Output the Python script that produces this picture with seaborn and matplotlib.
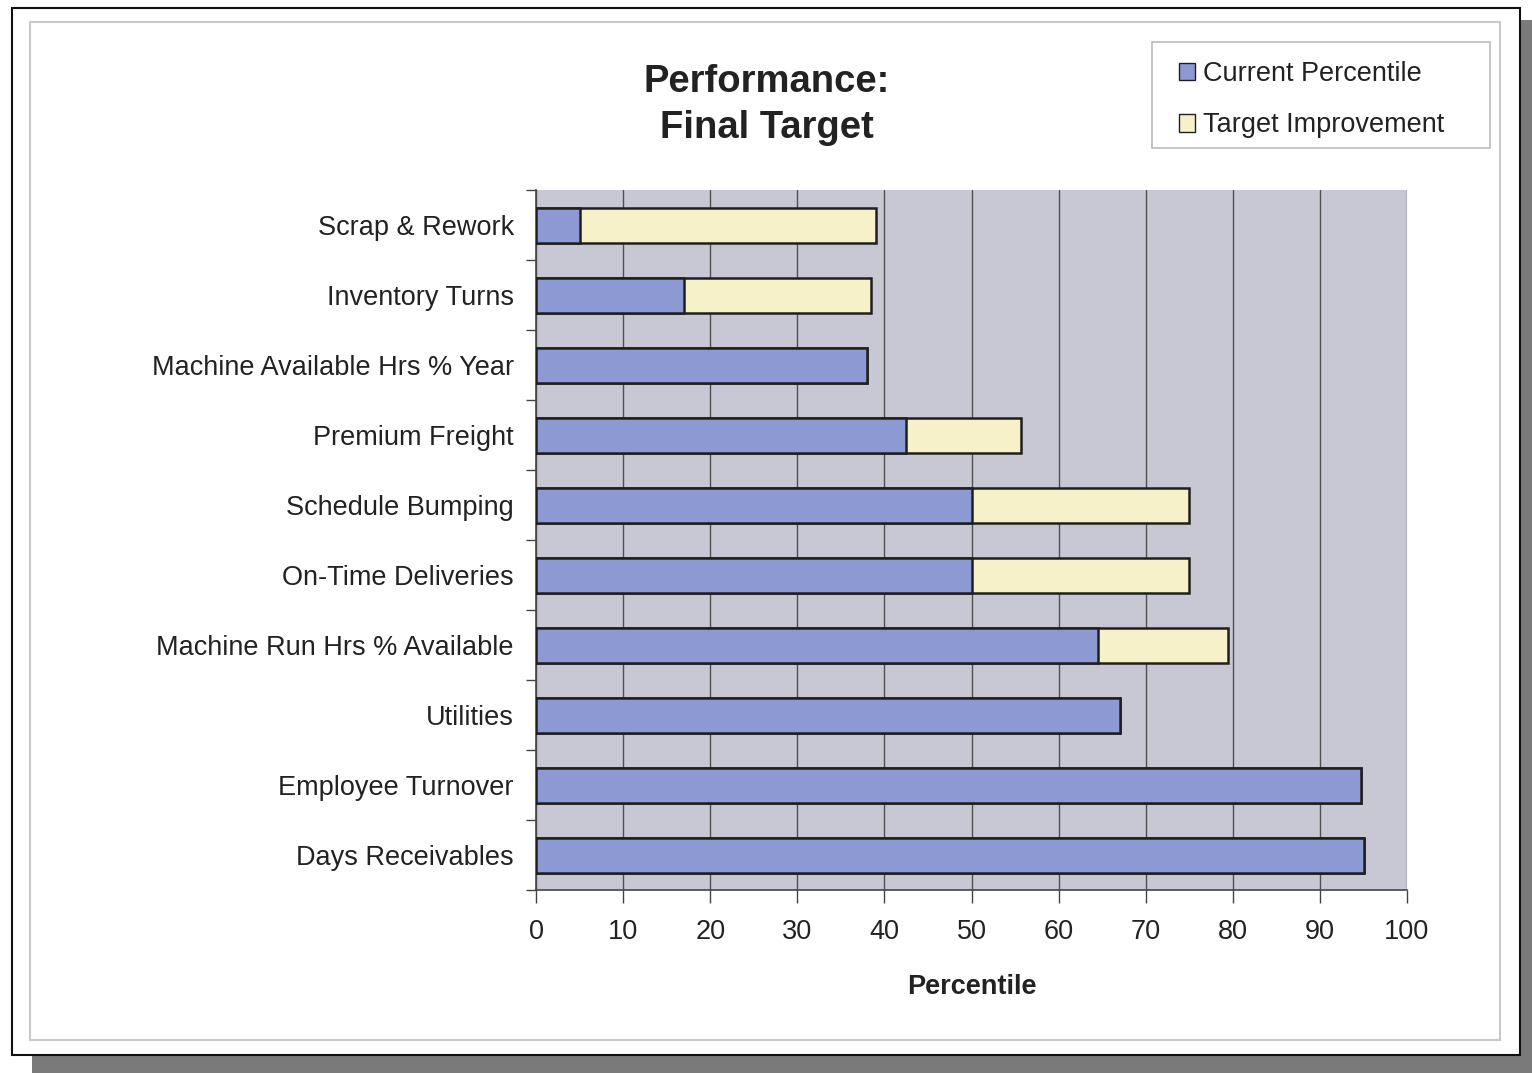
import matplotlib
matplotlib.use("Agg")
import matplotlib.pyplot as plt
from matplotlib.patches import Rectangle, Patch
import pandas as pd
import seaborn as sns

categories = [
    "Scrap & Rework",
    "Inventory Turns",
    "Machine Available Hrs % Year",
    "Premium Freight",
    "Schedule Bumping",
    "On-Time Deliveries",
    "Machine Run Hrs % Available",
    "Utilities",
    "Employee Turnover",
    "Days Receivables",
]
current_percentile = [5, 17, 38, 42.5, 50, 50, 64.5, 67, 94.7, 95.1]
target_improvement = [34, 21.5, 0, 13.2, 25, 25, 15, 0, 0, 0]
x_ticks = [0, 10, 20, 30, 40, 50, 60, 70, 80, 90, 100]

df = pd.DataFrame({
    "category": categories,
    "current": current_percentile,
    "improvement": target_improvement,
})
df["target"] = df["current"] + df["improvement"]

sns.set_theme(style="white")
plt.rcParams["font.family"] = ["Liberation Sans", "DejaVu Sans"]

W, H = 1532, 1073
fig = plt.figure(figsize=(W / 100, H / 100), dpi=100)
fig.patch.set_facecolor("white")


def px_rect(x0, y0, x1, y1, **kw):
    """Rectangle given in pixel coordinates measured from the top-left corner."""
    return Rectangle((x0 / W, 1 - y1 / H), (x1 - x0) / W, (y1 - y0) / H,
                     transform=fig.transFigure, **kw)


# drop shadow and page frame, kept behind the axes
fig.patches.append(px_rect(32, 1055, W, H, facecolor="#7a7a7a", edgecolor="none", zorder=-3))
fig.patches.append(px_rect(1520, 20, W, H, facecolor="#7a7a7a", edgecolor="none", zorder=-3))
fig.patches.append(px_rect(12, 8, 1520, 1055, facecolor="white", edgecolor="#111111",
                           linewidth=1.5, zorder=-2))
fig.patches.append(px_rect(30, 22, 1500, 1040, facecolor="none", edgecolor="#c8c8c8",
                           linewidth=1.5, zorder=-1))
# legend box
fig.patches.append(px_rect(1152, 42, 1490, 148, facecolor="white", edgecolor="#bbbbbb",
                           linewidth=1.2, zorder=-1))

left, right, top, bottom = 536, 1407, 190, 890
ax = fig.add_axes([left / W, (H - bottom) / H, (right - left) / W, (bottom - top) / H])
ax.set_facecolor("#c8c8d4")

blue = "#8c99d2"
cream = "#f6f1c9"
edge = "#1f1f1f"

sns.barplot(data=df, x="target", y="category", orient="h", color=cream, saturation=1,
            edgecolor=edge, linewidth=1.8, width=0.5, ax=ax, zorder=3)
sns.barplot(data=df, x="current", y="category", orient="h", color=blue, saturation=1,
            edgecolor=edge, linewidth=1.8, width=0.5, ax=ax, zorder=4)

ax.set_xlim(0, 100)
ax.set_ylim(len(categories) - 0.5, -0.5)
ax.set_xticks(x_ticks)
ax.set_xticklabels([str(t) for t in x_ticks])
ax.xaxis.grid(True, color="#505050", linewidth=1.0)
ax.yaxis.grid(False)
ax.set_axisbelow(True)

for side in ["top", "right"]:
    ax.spines[side].set_visible(False)
for side in ["left", "bottom"]:
    ax.spines[side].set_color("#444444")
    ax.spines[side].set_linewidth(1.2)

ax.tick_params(axis="x", direction="out", length=9, width=1, color="#444444",
               labelsize=19.5, labelcolor="#222222", pad=12, bottom=True)
ax.set_yticks(range(len(categories)))
ax.set_yticklabels(categories)
ax.tick_params(axis="y", length=0, labelsize=19.5, labelcolor="#222222", pad=16)
ax.set_yticks([i + 0.5 for i in range(-1, len(categories))], minor=True)
ax.tick_params(axis="y", which="minor", direction="out", length=7, width=1,
               color="#444444", left=True)

ax.set_xlabel("Percentile", fontsize=19.5, fontweight="bold", color="#222222", labelpad=21)
ax.set_ylabel("")

fig.text(767 / W, 1 - 105 / H, "Performance:\nFinal Target", ha="center", va="center",
         fontsize=27.5, fontweight="bold", color="#222222", linespacing=1.35)

handles = [Patch(facecolor=blue, edgecolor=edge, label="Current Percentile"),
           Patch(facecolor=cream, edgecolor=edge, label="Target Improvement")]
leg = fig.legend(handles=handles, loc="upper left", bbox_to_anchor=(1179 / W, 1 - 61 / H),
                 frameon=False, fontsize=19.5, handlelength=0.6, handleheight=0.6,
                 handletextpad=0.3, labelspacing=0.94, borderpad=0, borderaxespad=0)
for t in leg.get_texts():
    t.set_color("#222222")

fig.savefig("out.png", dpi=100)
